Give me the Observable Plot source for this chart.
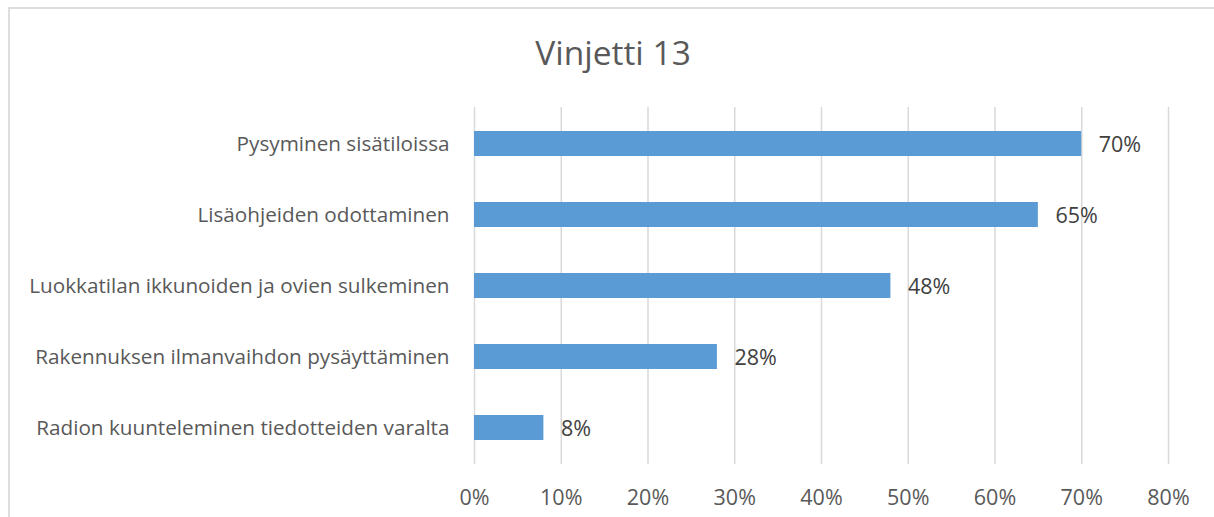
<!DOCTYPE html>
<html>
<head>
<meta charset="utf-8">
<script src="https://cdn.jsdelivr.net/npm/d3@7"></script>
<script src="https://cdn.jsdelivr.net/npm/@observablehq/plot@0.6"></script>
<style>
  html, body { margin: 0; padding: 0; background: #fff; overflow: hidden; }
  #wrap { position: relative; width: 1214px; height: 517px; }
  #frame { position: absolute; left: 8px; top: 7px; width: 1230px; height: 600px; border: 2px solid #dedede; box-sizing: border-box; }
  #title { position: absolute; left: 8px; top: 32px; width: 1210px; height: 40px; line-height: 40px; text-align: center;
           font-family: "Open Sans", sans-serif; font-size: 33.5px; color: #595959; }
  #chart { position: absolute; left: 0; top: 72px; }
</style>
</head>
<body>
<div id="wrap">
  <div id="frame"></div>
  <div id="title">Vinjetti 13</div>
  <div id="chart"></div>
</div>
<script>
const categories = [
  "Pysyminen sisätiloissa",
  "Lisäohjeiden odottaminen",
  "Luokkatilan ikkunoiden ja ovien sulkeminen",
  "Rakennuksen ilmanvaihdon pysäyttäminen",
  "Radion kuunteleminen tiedotteiden varalta"
];
const values = [0.70, 0.65, 0.48, 0.28, 0.08];
const xTicks = [0, 0.1, 0.2, 0.3, 0.4, 0.5, 0.6, 0.7, 0.8];

const data = categories.map((c, i) => ({category: c, value: values[i]}));
const pct = d3.format(".0%");

const chart = Plot.plot({
  width: 1214,
  height: 445,
  marginLeft: 474,
  marginRight: 46,
  marginTop: 35,
  marginBottom: 53,
  style: {fontFamily: "'Open Sans', sans-serif", background: "transparent"},
  x: {domain: [0, 0.8]},
  y: {domain: categories, paddingInner: 0.65, paddingOuter: 0.325},
  marks: [
    Plot.gridX(xTicks, {stroke: "#d9d9d9", strokeOpacity: 1, strokeWidth: 1.5}),
    Plot.barX(data, {x: "value", y: "category", fill: "#5b9bd5"}),
    Plot.text(data, {x: "value", y: "category", text: d => pct(d.value), textAnchor: "start", dx: 17, dy: 1,
                     fill: "#404040", fontSize: 21.5}),
    Plot.axisX(xTicks, {tickFormat: pct, tickSize: 0, tickPadding: 25, fontSize: 21.5, fill: "#595959", label: null}),
    Plot.axisY({tickSize: 0, tickPadding: 25, fontSize: 20.7, fill: "#595959", label: null})
  ]
});
document.getElementById("chart").appendChild(chart);
</script>
</body>
</html>
